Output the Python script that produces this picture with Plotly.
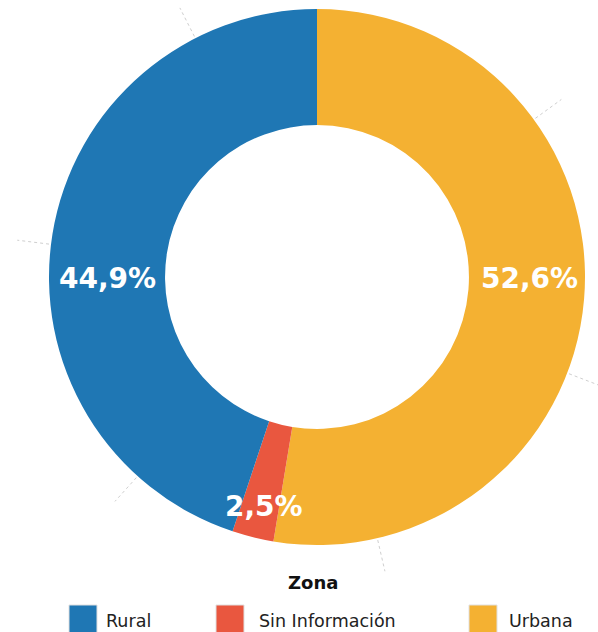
import math
import plotly.graph_objects as go

# Distribution by zone (percent), drawn clockwise from 12 o'clock
zonas = ["Urbana", "Sin Información", "Rural"]
porcentajes = [52.6, 2.5, 44.9]
colores = ["#F4B132", "#E9573F", "#1F77B4"]

# legend order
legend_zonas = ["Rural", "Sin Información", "Urbana"]

W, H = 598, 632

fig = go.Figure(
    go.Pie(
        labels=zonas,
        values=porcentajes,
        marker=dict(colors=colores, line=dict(width=0)),
        hole=0.567,
        sort=False,
        direction="clockwise",
        textinfo="none",
        domain=dict(x=[49 / W, 585 / W], y=[1 - 545 / H, 1 - 9 / H]),
        showlegend=False,
        hoverinfo="label+percent",
    )
)

def px(x, y):
    return x / W, 1 - y / H

# percentage labels (pixel anchor of each label centre)
label_pos = {"Urbana": (529, 278), "Sin Información": (264, 507), "Rural": (107, 278)}
total = sum(porcentajes)
annotations = []
for zona, val in zip(zonas, porcentajes):
    x, y = px(*label_pos[zona])
    txt = f"{100 * val / total:.1f}%".replace(".", ",")
    annotations.append(dict(text=f"<b>{txt}</b>", xref="paper", yref="paper",
                            x=x, y=y, showarrow=False,
                            xanchor="center", yanchor="middle",
                            font=dict(family="DejaVu Sans", size=28, color="white")))

# faint radial guide ticks around the ring (degrees clockwise from 12 o'clock)
cx, cy = 317, 277
tick_angles = [54, 111, 167, 222, 277, 333]
shapes = []
for a in tick_angles:
    t = math.radians(a)
    x0, y0 = px(cx + 270 * math.sin(t), cy - 270 * math.cos(t))
    x1, y1 = px(cx + 302 * math.sin(t), cy - 302 * math.cos(t))
    shapes.append(dict(type="line", xref="paper", yref="paper",
                       x0=x0, y0=y0, x1=x1, y1=y1,
                       line=dict(color="#cfcfcf", width=1, dash="dot"),
                       layer="below"))

# legend: title plus square swatches
tx, ty = px(313, 582)
annotations.append(dict(text="<b>Zona</b>", xref="paper", yref="paper",
                        x=tx, y=ty, showarrow=False,
                        xanchor="center", yanchor="middle",
                        font=dict(family="DejaVu Sans", size=18, color="#111")))
swatch_x = [69, 216, 469]
text_x = [104, 257, 507]
color_of = dict(zip(zonas, colores))
for zona, sx, lx in zip(legend_zonas, swatch_x, text_x):
    x0, y1 = px(sx, 605)
    x1, y0 = px(sx + 28, 633)
    shapes.append(dict(type="rect", xref="paper", yref="paper",
                       x0=x0, x1=x1, y0=y0, y1=y1,
                       fillcolor=color_of[zona], line=dict(color="#e0e0e0", width=1)))
    ax, ay = px(lx, 621)
    annotations.append(dict(text=zona, xref="paper", yref="paper",
                            x=ax, y=ay, showarrow=False,
                            xanchor="left", yanchor="middle",
                            font=dict(family="DejaVu Sans", size=17.5, color="#222")))

fig.update_layout(
    width=W,
    height=H,
    margin=dict(l=0, r=0, t=0, b=0),
    paper_bgcolor="white",
    plot_bgcolor="white",
    shapes=shapes,
    annotations=annotations,
)

fig.write_html("out.html")
